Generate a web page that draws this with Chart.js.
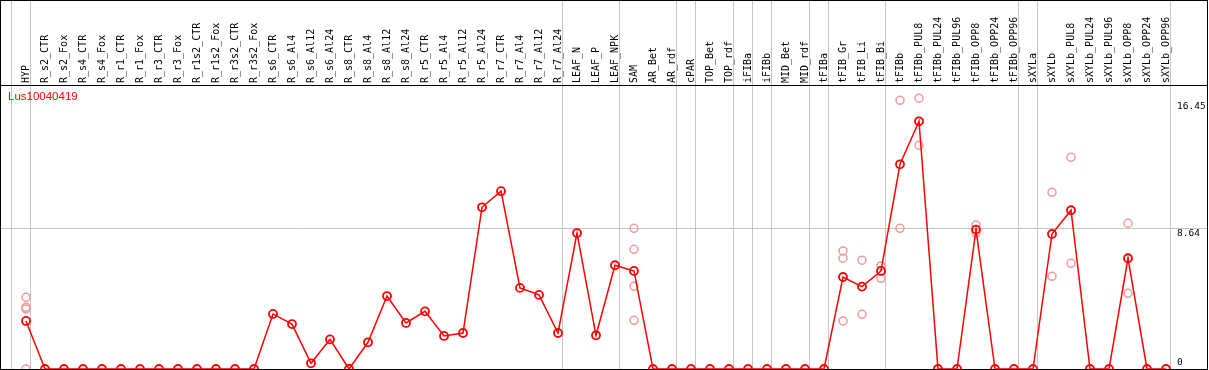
<!DOCTYPE html>
<html>
<head>
<meta charset="utf-8">
<script src="https://cdn.jsdelivr.net/npm/chart.js@4.4.1/dist/chart.umd.min.js"></script>
<style>
  html, body { margin: 0; padding: 0; background: #fff; }
  #frame { position: absolute; left: 0; top: 0; width: 1206px; height: 368px; border: 1px solid #000; }
  canvas { display: block; }
</style>
</head>
<body>
<div id="frame"><canvas id="expr" width="1206" height="368"></canvas></div>
<script>
const geneName = "Lus10040419";

const categories = [
    "HYP",
    "R_s2_CTR", "R_s2_Fox", "R_s4_CTR", "R_s4_Fox", "R_r1_CTR", "R_r1_Fox",
    "R_r3_CTR", "R_r3_Fox", "R_r1s2_CTR", "R_r1s2_Fox", "R_r3s2_CTR", "R_r3s2_Fox",
    "R_s6_CTR", "R_s6_Al4", "R_s6_Al12", "R_s6_Al24",
    "R_s8_CTR", "R_s8_Al4", "R_s8_Al12", "R_s8_Al24",
    "R_r5_CTR", "R_r5_Al4", "R_r5_Al12", "R_r5_Al24",
    "R_r7_CTR", "R_r7_Al4", "R_r7_Al12", "R_r7_Al24",
    "LEAF_N", "LEAF_P", "LEAF_NPK",
    "SAM", "AR_Bet", "AR_rdf", "cPAR", "TOP_Bet", "TOP_rdf", "iFIBa", "iFIBb",
    "MID_Bet", "MID_rdf", "tFIBa", "tFIB_Gr", "tFIB_Li", "tFIB_Bi",
    "tFIBb", "tFIBb_PUL8", "tFIBb_PUL24", "tFIBb_PUL96", "tFIBb_OPP8", "tFIBb_OPP24", "tFIBb_OPP96",
    "sXYLa",
    "sXYLb", "sXYLb_PUL8", "sXYLb_PUL24", "sXYLb_PUL96", "sXYLb_OPP8", "sXYLb_OPP24", "sXYLb_OPP96"
];

// mean expression per sample (red line)
const meanValues = [
    2.95,
    0, 0, 0, 0, 0, 0, 0, 0, 0, 0, 0, 0,
    3.38, 2.76, 0.35, 1.82,
    0, 1.64, 4.48, 2.83,
    3.54, 2.03, 2.21, 9.93,
    10.92, 4.98, 4.55, 2.21,
    8.35, 2.07, 6.37,
    6.02, 0, 0, 0, 0, 0, 0, 0,
    0, 0, 0, 5.65, 5.06, 6.02,
    12.57, 15.21, 0, 0, 8.56, 0, 0,
    0,
    8.29, 9.75, 0, 0, 6.80, 0, 0
];

// individual replicates (pale circles), same order as categories
const replicates = [
    [4.40, 3.79, 3.69, 0],
    [], [], [], [], [], [], [], [], [], [], [], [],
    [], [], [], [],
    [], [], [], [],
    [], [], [], [],
    [], [], [], [],
    [], [], [],
    [8.64, 7.35, 5.08, 2.99], [], [], [], [], [], [], [],
    [], [], [], [7.25, 6.80, 2.95], [6.68, 3.36], [6.33, 5.57],
    [16.50, 8.64], [16.63, 13.74], [], [], [8.85, 8.35], [], [],
    [],
    [10.85, 5.69], [13.00, 6.49], [], [], [8.95, 4.65], [], []
];

// index of the last sample in each group (grey separators)
const groupEnds = [-1, 0, 28, 31, 34, 35, 37, 38, 39, 41, 42, 45, 52, 53, 60];

const yTicks = [8.64, 16.45];
const yZeroTick = [0];

const GREY = "#c4c4c4";
const NONE = "rgba(0,0,0,0)";
const monoFont = { family: "'DejaVu Sans Mono', monospace", size: 10 };
const valueFont = { family: "'DejaVu Sans Mono', monospace", size: 9.5 };
const SEP = 0.237;

const titlePlugin = {
    id: "geneTitle",
    afterDraw(chart) {
        const ctx = chart.ctx;
        const area = chart.chartArea;
        ctx.save();
        ctx.fillStyle = "#ff0000";
        ctx.font = "11.5px 'Liberation Sans', sans-serif";
        ctx.textBaseline = "top";
        ctx.fillText(geneName, area.left + 7, area.top + 6);
        ctx.restore();
    }
};

const meanPoints = meanValues.map((v, i) => ({ x: i, y: v }));
const replicatePoints = [];
replicates.forEach((list, i) => list.forEach(v => replicatePoints.push({ x: i, y: v })));

function noPadding(s) {
    s.paddingLeft = 0;
    s.paddingRight = 0;
    s.paddingTop = 0;
    s.paddingBottom = 0;
}

const yCommon = {
    type: "linear",
    position: "right",
    min: 0,
    max: 17.44,
    afterFit: s => { s.width = 0; noPadding(s); },
    border: { display: false }
};

new Chart(document.getElementById("expr").getContext("2d"), {
    type: "line",
    data: {
        datasets: [
            {
                label: geneName,
                data: meanPoints,
                borderColor: "#ff0000",
                borderWidth: 1.5,
                pointRadius: 4,
                pointBorderWidth: 1.8,
                pointBorderColor: "#ff0000",
                pointBackgroundColor: NONE,
                tension: 0,
                order: 0
            },
            {
                label: "replicates",
                data: replicatePoints,
                showLine: false,
                pointRadius: 4,
                pointBorderWidth: 1.5,
                pointBorderColor: "#f09a9a",
                pointBackgroundColor: NONE,
                order: 1
            }
        ]
    },
    options: {
        responsive: false,
        animation: false,
        events: [],
        layout: { padding: 0, autoPadding: false },
        plugins: { legend: { display: false }, tooltip: { enabled: false } },
        scales: {
            x: {
                type: "linear",
                position: "top",
                min: -25 / 19,
                max: (1206 - 25) / 19,
                afterBuildTicks: s => {
                    s.ticks = [];
                    for (let i = -1; i < categories.length; i++) s.ticks.push({ value: i + SEP });
                },
                afterFit: s => { s.height = 84; noPadding(s); },
                grid: {
                    color: c => groupEnds.includes(Math.round(c.tick.value - SEP)) ? GREY : NONE,
                    lineWidth: 1,
                    drawTicks: true,
                    tickLength: 84
                },
                border: { display: true, color: "#000", width: 1 },
                ticks: {
                    autoSkip: false,
                    minRotation: 90,
                    maxRotation: 90,
                    labelOffset: 7.5,
                    padding: -82,
                    font: monoFont,
                    color: "#000",
                    callback: (v, i) => categories[i - 1] || ""
                }
            },
            y: Object.assign({}, yCommon, {
                afterBuildTicks: s => { s.ticks = yTicks.map(v => ({ value: v })); },
                grid: {
                    drawTicks: false,
                    color: c => (c.tick && c.tick.value === 8.64) ? GREY : NONE
                },
                ticks: {
                    mirror: true,
                    crossAlign: "far",
                    padding: -1.4,
                    labelOffset: 5,
                    font: valueFont,
                    color: "#000",
                    callback: v => String(v)
                }
            }),
            y0: Object.assign({}, yCommon, {
                afterBuildTicks: s => { s.ticks = yZeroTick.map(v => ({ value: v })); },
                grid: { display: false, drawTicks: false },
                ticks: {
                    mirror: true,
                    crossAlign: "far",
                    padding: -24.3,
                    labelOffset: -6,
                    font: valueFont,
                    color: "#000",
                    callback: v => String(v)
                }
            })
        }
    },
    plugins: [titlePlugin]
});
</script>
</body>
</html>
